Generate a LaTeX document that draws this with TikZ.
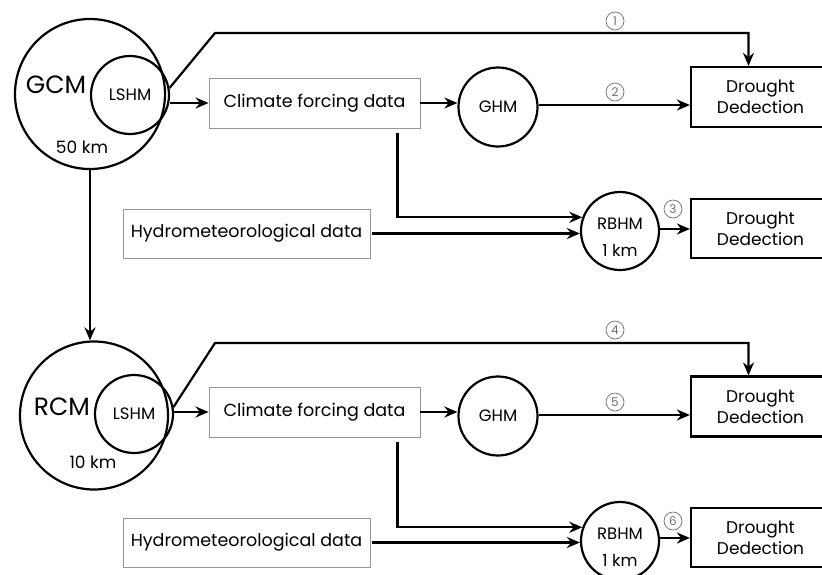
\documentclass[tikz,border=0pt]{standalone}
\usepackage{fontspec}
\setmainfont{Poppins}
\usetikzlibrary{arrows.meta,positioning}
\definecolor{boxgray}{RGB}{150,150,150}
\definecolor{numgray}{RGB}{110,110,110}
\tikzset{
  bigmodel/.style={circle,draw,line width=2.2pt,minimum size=150pt,inner sep=0pt},
  submodel/.style={circle,draw,line width=2.2pt,minimum size=78pt,inner sep=0pt,font=\fontsize{16.5}{18}\selectfont},
  datbox/.style={rectangle,draw=boxgray,line width=0.9pt,minimum height=50pt,font=\fontsize{17.5}{19}\selectfont},
  detbox/.style={rectangle,draw,line width=2.2pt,minimum width=139pt,minimum height=60pt,align=center,font=\fontsize{17}{21}\selectfont},
  numlab/.style={circle,draw=numgray,line width=0.7pt,minimum size=18pt,inner sep=0pt,text=numgray,font=\fontsize{12}{12}\selectfont},
  reslab/.style={align=center,font=\fontsize{16.5}{27}\selectfont},
  flow/.style={->,line width=2.2pt},
}
\begin{document}
\begin{tikzpicture}[x=1pt,y=-1pt,>={Stealth[length=13pt,width=11pt]}]
  \useasboundingbox (0,0) rectangle (822,574);
  \clip (0,0) rectangle (822,574);
  % global model
  \node[bigmodel] (gcm) at (90,94) {};
  \node[font=\fontsize{25}{25}\selectfont] (gcmlab) at (56,85) {GCM};
  \node[font=\fontsize{17}{19}\selectfont] (gcmres) at (82,147) {50 km};
  \node[submodel] (lshma) at (130,95) {LSHM};
  \node[datbox,minimum width=211pt] (clima) at (314.5,103) {Climate forcing data};
  \node[submodel,minimum size=79pt] (ghma) at (498,107) {GHM};
  \node[detbox] (detA) at (760.5,97) {Drought\\Dedection};
  \node[datbox,minimum width=247pt,minimum height=49pt] (hyda) at (246.5,233.5) {Hydrometeorological data};
  \node[submodel] (rbhma) at (620,231) {};
  \node[reslab] (rbhmalab) at (620,237) {RBHM\\1 km};
  \node[detbox,minimum height=59pt] (detB) at (760.5,228.5) {Drought\\Dedection};
  \coordinate (kinka) at (215,33);
  \draw[flow] (lshma.10) -- (kinka) -| ([xshift=-12pt]detA.north);
  \draw[flow] (lshma.east |- clima.west) -- (clima.west);
  \draw[flow] (clima.east) -- (clima.east -| ghma.west);
  \draw[flow] (ghma.east |- 0,105) -- (detA.west |- 0,105);
  \draw[flow] ([xshift=-23pt,yshift=-5pt]clima.south east) |- (rbhma.160);
  \draw[flow] ([xshift=2pt]hyda.east) -- (hyda.east -| rbhma.west);
  \draw[flow] (rbhma.east |- 0,229) -- (detB.west |- 0,229);
  \node[numlab] (n1) at (615,21) {1};
  \node[numlab] (n2) at (615,92) {2};
  \node[numlab] (n3) at (673,209) {3};
  % regional model
  \node[bigmodel,minimum size=148pt] (rcm) at (94,415.5) {};
  \node[font=\fontsize{25}{25}\selectfont] (rcmlab) at (62,407) {RCM};
  \node[font=\fontsize{17}{19}\selectfont] (rcmres) at (93,462) {10 km};
  \node[submodel] (lshmb) at (134,414) {LSHM};
  \node[datbox,minimum width=211pt] (climb) at (314.5,412) {Climate forcing data};
  \node[submodel,minimum size=79pt] (ghmb) at (498,416) {GHM};
  \node[detbox] (detC) at (760.5,406.5) {Drought\\Dedection};
  \node[datbox,minimum width=247pt,minimum height=49pt] (hydb) at (246.5,542.5) {Hydrometeorological data};
  \node[submodel] (rbhmb) at (620,541) {};
  \node[reslab] (rbhmblab) at (620,547) {RBHM\\1 km};
  \node[detbox,minimum height=59pt] (detD) at (760.5,537.5) {Drought\\Dedection};
  \coordinate (kinkb) at (215,343);
  \draw[flow] (lshmb.10) -- (kinkb) -| ([xshift=-12pt]detC.north);
  \draw[flow] (lshmb.east |- climb.west) -- (climb.west);
  \draw[flow] (climb.east) -- (climb.east -| ghmb.west);
  \draw[flow] (ghmb.east |- 0,415) -- (detC.west |- 0,415);
  \draw[flow] ([xshift=-23pt,yshift=-5pt]climb.south east) |- (rbhmb.160);
  \draw[flow] ([xshift=2pt]hydb.east) -- (hydb.east -| rbhmb.west);
  \draw[flow] (rbhmb.east |- 0,538) -- (detD.west |- 0,538);
  \node[numlab] (n4) at (615,330) {4};
  \node[numlab] (n5) at (615,402) {5};
  \node[numlab] (n6) at (673,521) {6};
  % downscaling
  \draw[flow] (gcm.south) -- (gcm.south |- rcm.north);
\end{tikzpicture}
\end{document}
